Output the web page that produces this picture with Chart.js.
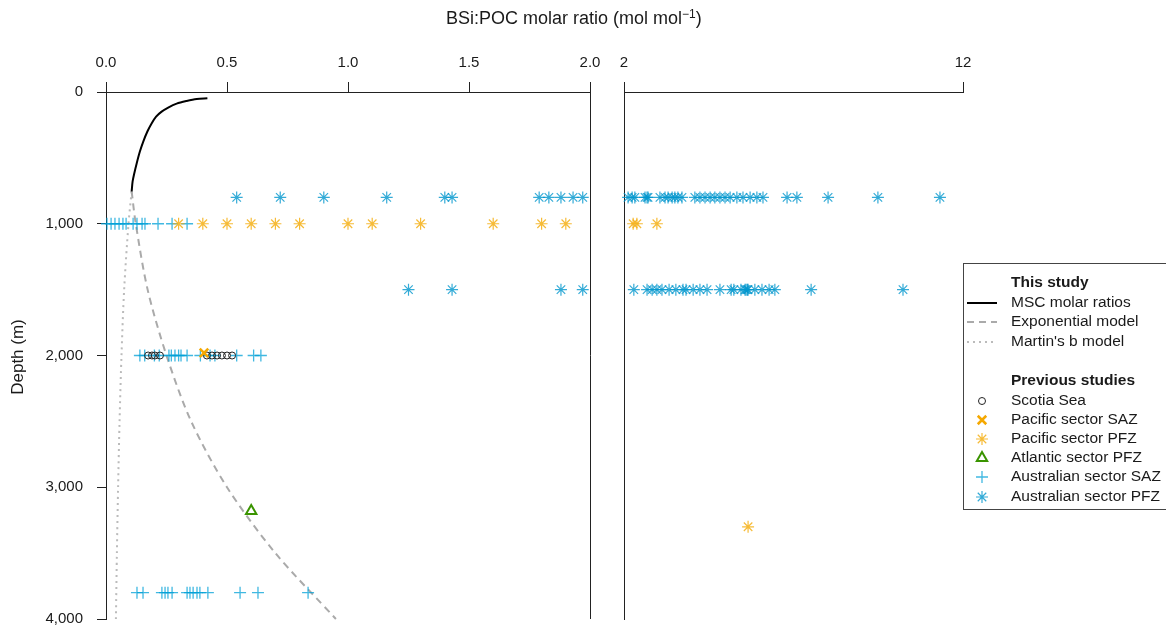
<!DOCTYPE html>
<html>
<head>
<meta charset="utf-8">
<script src="https://cdn.jsdelivr.net/npm/chart.js@4/dist/chart.umd.min.js"></script>
<style>
html,body{margin:0;padding:0;background:#fff;}
#wrap{position:relative;width:1166px;height:629px;overflow:hidden;font-family:"Liberation Sans",Arial,sans-serif;color:#1a1a1a;background:#fff;}
canvas{position:absolute;top:0;}
#cA{left:0;}
#cB{left:600px;}
#title{position:absolute;top:8px;left:446px;white-space:nowrap;font-size:18px;line-height:20px;z-index:2;}
#title sup{font-size:12px;vertical-align:6px;line-height:0;}
#ylab{position:absolute;left:-42px;top:347px;width:120px;height:20px;line-height:20px;text-align:center;font-size:17px;transform:rotate(-90deg);z-index:2;}
</style>
</head>
<body>
<div id="wrap">
  <canvas id="cA" width="600" height="629"></canvas>
  <canvas id="cB" width="566" height="629"></canvas>
  <div id="title">BSi:POC molar ratio (mol mol<sup>−1</sup>)</div>
  <div id="ylab">Depth (m)</div>
</div>
<script>
// ---------- tick labels ----------
const leftTicks = [0, 0.5, 1.0, 1.5, 2.0];
const rightTicks = [2, 12];
const depthTicks = [0, 1000, 2000, 3000, 4000];

// ---------- "This study" curves (depth m, ratio) ----------
const mscDepth = [48, 53, 68, 88, 118, 149, 187, 237, 300, 376, 452, 540, 616, 679, 755];
const mscRatio = [0.419, 0.375, 0.333, 0.292, 0.257, 0.230, 0.207, 0.189, 0.171, 0.154, 0.140, 0.127, 0.117, 0.110, 0.106];
const expDepth = [755, 1000, 1500, 2000, 2500, 3000, 3500, 4000];
const expRatio = [0.106, 0.123, 0.172, 0.250, 0.352, 0.500, 0.700, 0.950];
const martinDepth = [755, 1000, 1500, 2000, 2500, 3000, 3500, 4000];
const martinRatio = [0.106, 0.093, 0.075, 0.064, 0.056, 0.050, 0.045, 0.041];

// ---------- previous studies (ratios at given depth) ----------
const scotiaDepth = 2000;
const scotiaRatio = [0.174, 0.190, 0.202, 0.223, 0.417, 0.438, 0.459, 0.479, 0.500, 0.521];
const pacSAZDepth = [1980];
const pacSAZRatio = [0.405];
const pacPFZ1000 = [0.3, 0.4, 0.5, 0.6, 0.7, 0.8, 1.0, 1.1, 1.3, 1.6, 1.8, 1.9, 2.27, 2.38, 2.97];
const pacPFZ3300 = [5.66];
const atlPFZDepth = [3180];
const atlPFZRatio = [0.60];
const ausSAZ1000 = [0.004, 0.021, 0.037, 0.054, 0.070, 0.083, 0.112, 0.128, 0.149, 0.161, 0.215, 0.273, 0.335];
const ausSAZ2000 = [0.14, 0.16, 0.20, 0.22, 0.26, 0.27, 0.285, 0.30, 0.31, 0.335, 0.39, 0.43, 0.45, 0.54, 0.61, 0.64];
const ausSAZ3800 = [0.128, 0.153, 0.231, 0.244, 0.256, 0.273, 0.335, 0.347, 0.360, 0.376, 0.388, 0.421, 0.554, 0.628, 0.835];
const ausPFZ800 = [0.54, 0.72, 0.90, 1.16, 1.40, 1.43, 1.79, 1.83, 1.88, 1.93, 1.97,
  2.12, 2.24, 2.32, 2.62, 2.68, 2.71, 3.06, 3.21, 3.30, 3.42, 3.50, 3.59, 3.71,
  4.09, 4.24, 4.39, 4.54, 4.68, 4.83, 4.98, 5.13, 5.33, 5.51, 5.72, 5.92, 6.10,
  6.81, 7.10, 8.02, 9.49, 11.32];
const ausPFZ1500 = [1.25, 1.43, 1.88, 1.97,
  2.29, 2.68, 2.83, 2.97, 3.12, 3.33, 3.53, 3.74, 3.83, 4.04, 4.24, 4.45, 4.83,
  5.16, 5.24, 5.45, 5.57, 5.60, 5.64, 5.66, 5.86, 6.07, 6.28, 6.45, 7.52, 10.23];

// ---------- helpers ----------
const FONT = '"Liberation Sans", Arial, sans-serif';
const TXT = '#1a1a1a';
const AX = '#222';
Chart.defaults.font.family = FONT;

const row = (vals, d) => vals.map(v => ({x: v, y: d}));
const pair = (vals, ds) => vals.map((v, i) => ({x: v, y: ds[i]}));
const leftOf = pts => pts.filter(p => p.x <= 2);
const rightOf = pts => pts.filter(p => p.x > 2);
const fmtDepth = v => String(v).replace(/\B(?=(\d{3})+(?!\d))/g, ',');

const STY = {
  scotia: {pointStyle: 'circle', pointRadius: 3.5, borderColor: '#222', backgroundColor: 'rgba(0,0,0,0)', borderWidth: 1},
  pacSAZ: {pointStyle: 'crossRot', pointRadius: 6, borderColor: '#F5A800', backgroundColor: 'rgba(0,0,0,0)', borderWidth: 2.5},
  pacPFZ: {pointStyle: 'star', pointRadius: 6, borderColor: 'rgba(245,175,20,0.85)', backgroundColor: 'rgba(0,0,0,0)', borderWidth: 1.2},
  atl:    {pointStyle: 'triangle', pointRadius: 6, borderColor: '#3A9400', backgroundColor: 'rgba(0,0,0,0)', borderWidth: 2},
  ausSAZ: {pointStyle: 'cross', pointRadius: 6, borderColor: 'rgba(0,160,215,0.75)', backgroundColor: 'rgba(0,0,0,0)', borderWidth: 1.3},
  ausPFZ: {pointStyle: 'star', pointRadius: 6, borderColor: 'rgba(0,150,205,0.8)', backgroundColor: 'rgba(0,0,0,0)', borderWidth: 1.2}
};
const LINES = {
  msc: {borderColor: '#000', borderWidth: 2, borderDash: []},
  exp: {borderColor: '#aaaaaa', borderWidth: 2, borderDash: [7, 5]},
  martin: {borderColor: '#bbbbbb', borderWidth: 2, borderDash: [2, 4]}
};

function pointSet(label, data, sty) {
  return Object.assign({type: 'scatter', label, data, clip: false, pointHoverRadius: sty.pointRadius}, sty);
}
function lineSet(label, data, sty) {
  return Object.assign({type: 'scatter', label, data, showLine: true, pointRadius: 0, pointHoverRadius: 0, tension: 0.3, clip: false, fill: false}, sty);
}

const allPts = {
  scotia: row(scotiaRatio, scotiaDepth),
  pacSAZ: pair(pacSAZRatio, pacSAZDepth),
  pacPFZ: row(pacPFZ1000, 1000).concat(row(pacPFZ3300, 3300)),
  atl: pair(atlPFZRatio, atlPFZDepth),
  ausSAZ: row(ausSAZ1000, 1000).concat(row(ausSAZ2000, 2000), row(ausSAZ3800, 3800)),
  ausPFZ: row(ausPFZ800, 800).concat(row(ausPFZ1500, 1500))
};

function datasetsFor(filter, withCurves) {
  const ds = [
    pointSet('Pacific sector SAZ', filter(allPts.pacSAZ), STY.pacSAZ),
    pointSet('Atlantic sector PFZ', filter(allPts.atl), STY.atl),
    pointSet('Scotia Sea', filter(allPts.scotia), STY.scotia),
    pointSet('Pacific sector PFZ', filter(allPts.pacPFZ), STY.pacPFZ),
    pointSet('Australian sector SAZ', filter(allPts.ausSAZ), STY.ausSAZ),
    pointSet('Australian sector PFZ', filter(allPts.ausPFZ), STY.ausPFZ)
  ];
  if (withCurves) {
    ds.push(lineSet('MSC molar ratios', pair(mscRatio, mscDepth), LINES.msc));
    ds.push(lineSet('Exponential model', pair(expRatio, expDepth), LINES.exp));
    ds.push(lineSet("Martin's b model", pair(martinRatio, martinDepth), LINES.martin));
  }
  return ds;
}

const tickFont = {family: FONT, size: 15};
const noPadX = s => { s.height = 92; s.paddingLeft = 0; s.paddingRight = 0; };
const noPadY = w => s => { s.width = w; s.paddingTop = 0; s.paddingBottom = 0; };

// ---------- left panel ----------
const rightBorder = {
  id: 'rightBorder',
  afterDraw(c) {
    const {ctx, chartArea: a} = c;
    const x = Math.round(a.right) + 0.5;
    ctx.save();
    ctx.strokeStyle = AX; ctx.lineWidth = 1;
    ctx.beginPath(); ctx.moveTo(x, a.top); ctx.lineTo(x, a.bottom); ctx.stroke();
    ctx.restore();
  }
};

new Chart(document.getElementById('cA'), {
  type: 'scatter',
  data: {datasets: datasetsFor(leftOf, true)},
  options: {
    responsive: false, animation: false, devicePixelRatio: 1, events: [],
    layout: {padding: {left: 0, top: 0, right: 10, bottom: 10}},
    plugins: {legend: {display: false}, tooltip: {enabled: false}},
    scales: {
      x: {
        type: 'linear', position: 'top', min: 0, max: 2,
        afterBuildTicks: s => { s.ticks = leftTicks.map(v => ({value: v})); },
        afterFit: noPadX,
        ticks: {callback: v => Number(v).toFixed(1), font: tickFont, color: TXT, padding: 10, maxRotation: 0, autoSkip: false},
        grid: {drawOnChartArea: false, drawTicks: true, tickLength: 10, color: AX, lineWidth: 1},
        border: {display: true, color: AX, width: 1}
      },
      y: {
        type: 'linear', position: 'left', reverse: true, min: 0, max: 4000,
        afterBuildTicks: s => { s.ticks = depthTicks.map(v => ({value: v})); },
        afterFit: noPadY(106),
        ticks: {callback: v => fmtDepth(v), font: tickFont, color: TXT, padding: 14, autoSkip: false},
        grid: {drawOnChartArea: false, drawTicks: true, tickLength: 9, color: AX, lineWidth: 1},
        border: {display: true, color: AX, width: 1}
      }
    }
  },
  plugins: [rightBorder]
});

// ---------- right panel + legend ----------
const OFF = 600;
const legendRows = [
  {y: 283, text: 'This study', bold: true},
  {y: 303, text: 'MSC molar ratios', line: LINES.msc},
  {y: 322, text: 'Exponential model', line: LINES.exp},
  {y: 342, text: "Martin's b model", line: LINES.martin},
  {y: 381, text: 'Previous studies', bold: true},
  {y: 401, text: 'Scotia Sea', pt: STY.scotia},
  {y: 420, text: 'Pacific sector SAZ', pt: STY.pacSAZ},
  {y: 439, text: 'Pacific sector PFZ', pt: STY.pacPFZ},
  {y: 458, text: 'Atlantic sector PFZ', pt: STY.atl},
  {y: 477, text: 'Australian sector SAZ', pt: STY.ausSAZ},
  {y: 497, text: 'Australian sector PFZ', pt: STY.ausPFZ}
];

const legendPlugin = {
  id: 'boxLegend',
  afterDraw(c) {
    const ctx = c.ctx;
    ctx.save();
    ctx.strokeStyle = '#444'; ctx.lineWidth = 1;
    ctx.strokeRect(963 - OFF + 0.5, 263.5, 320, 246);
    ctx.textBaseline = 'middle'; ctx.textAlign = 'left';
    legendRows.forEach(r => {
      ctx.fillStyle = TXT;
      ctx.font = (r.bold ? 'bold ' : '') + '15.5px ' + FONT;
      ctx.fillText(r.text, 1011 - OFF, r.y);
      if (r.line) {
        ctx.save();
        ctx.strokeStyle = r.line.borderColor; ctx.lineWidth = r.line.borderWidth;
        ctx.setLineDash(r.line.borderDash);
        ctx.beginPath(); ctx.moveTo(967 - OFF, r.y); ctx.lineTo(997 - OFF, r.y); ctx.stroke();
        ctx.restore();
      }
      if (r.pt) {
        ctx.save();
        ctx.strokeStyle = r.pt.borderColor; ctx.fillStyle = r.pt.backgroundColor;
        ctx.lineWidth = r.pt.borderWidth;
        Chart.helpers.drawPoint(ctx, {pointStyle: r.pt.pointStyle, rotation: 0, radius: r.pt.pointRadius, borderWidth: r.pt.borderWidth}, 982 - OFF, r.y);
        ctx.restore();
      }
    });
    ctx.restore();
  }
};

new Chart(document.getElementById('cB'), {
  type: 'scatter',
  data: {datasets: datasetsFor(rightOf, false)},
  options: {
    responsive: false, animation: false, devicePixelRatio: 1, events: [],
    layout: {padding: {left: 24, top: 0, right: 203, bottom: 10}},
    plugins: {legend: {display: false}, tooltip: {enabled: false}},
    scales: {
      x: {
        type: 'linear', position: 'top', min: 2, max: 12,
        afterBuildTicks: s => { s.ticks = rightTicks.map(v => ({value: v})); },
        afterFit: noPadX,
        ticks: {callback: v => String(v), font: tickFont, color: TXT, padding: 10, maxRotation: 0, autoSkip: false},
        grid: {drawOnChartArea: false, drawTicks: true, tickLength: 10, color: AX, lineWidth: 1},
        border: {display: true, color: AX, width: 1}
      },
      y: {
        type: 'linear', position: 'left', reverse: true, min: 0, max: 4000,
        afterBuildTicks: s => { s.ticks = depthTicks.map(v => ({value: v})); },
        afterFit: noPadY(0),
        ticks: {display: false},
        grid: {drawOnChartArea: false, drawTicks: false, color: AX},
        border: {display: true, color: AX, width: 1}
      }
    }
  },
  plugins: [legendPlugin]
});
</script>
</body>
</html>
